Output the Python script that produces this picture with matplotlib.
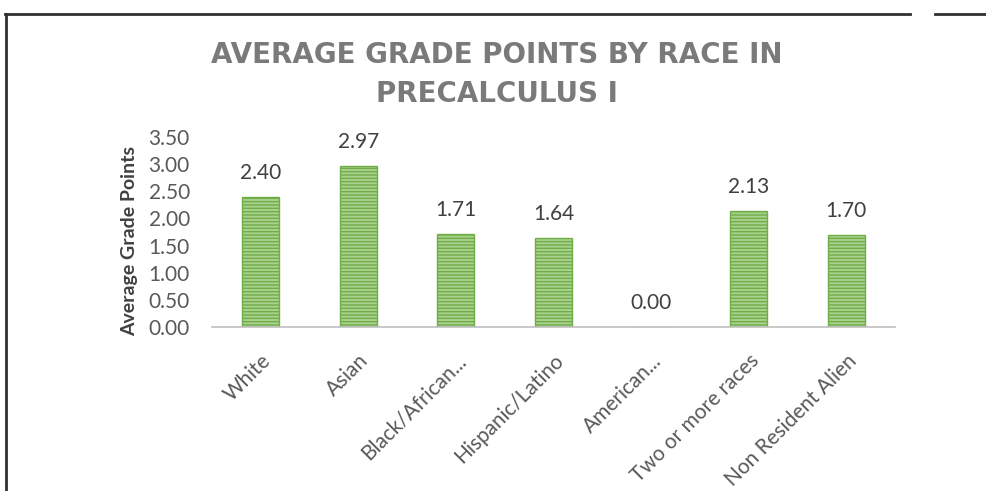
import numpy as np
import matplotlib.pyplot as plt
from matplotlib.lines import Line2D

# average grade points by race, precalculus I

races = ['White', 'Asian', 'Black/African...', 'Hispanic/Latino',
         'American...', 'Two or more races', 'Non Resident Alien']
grade_points = [2.40, 2.97, 1.71, 1.64, 0.00, 2.13, 1.70]
yticks = [0.0, 0.5, 1.0, 1.5, 2.0, 2.5, 3.0, 3.5]

text_gray = '#595959'
plt.rcParams['font.family'] = ['Lato', 'DejaVu Sans']
plt.rcParams['hatch.linewidth'] = 1.0

fig = plt.figure(figsize=(9.87, 4.91), dpi=100)
ax = fig.add_axes([0.2148, 0.334, 0.692, 0.387])

x = np.arange(len(races))
bars = ax.bar(x, grade_points, width=0.38, color='#a9d18e',
              edgecolor='#70ad47', hatch='-----', linewidth=1.0)

for xi, v in zip(x, grade_points):
    ax.annotate(f'{v:.2f}', (xi, v), xytext=(0, 10), textcoords='offset points',
                ha='center', va='bottom', fontsize=15, color='#404040')

ax.set_xlim(-0.5, len(races) - 0.5)
ax.set_ylim(0, 3.5)
ax.set_yticks(yticks)
ax.set_yticklabels([f'{t:.2f}' for t in yticks], fontsize=15, color=text_gray)
ax.set_xticks(x)
ax.set_xticklabels(races, rotation=45, ha='right', rotation_mode='anchor',
                   fontsize=15, color=text_gray)
ax.tick_params(axis='both', length=0)
ax.tick_params(axis='x', pad=17)
ax.tick_params(axis='y', pad=16)

for s in ['top', 'right', 'left']:
    ax.spines[s].set_visible(False)
ax.spines['bottom'].set_color('#bfbfbf')
ax.spines['bottom'].set_linewidth(1.2)

ax.set_ylabel('Average Grade Points', fontsize=14, fontweight='bold',
              color='#404040')
ax.yaxis.set_label_coords(-0.108, 0.453)

title_font = dict(ha='center', va='center', fontsize=20, fontweight='bold',
                  color='#7a7a7a', family=['DejaVu Sans'])
fig.text(0.503, 0.889, 'AVERAGE GRADE POINTS BY RACE IN', **title_font)
fig.text(0.503, 0.808, 'PRECALCULUS I', **title_font)

# page border lines
fig.add_artist(Line2D([0.005, 0.922], [0.972, 0.972], color='#303030', lw=2))
fig.add_artist(Line2D([0.947, 1.0], [0.972, 0.972], color='#303030', lw=2))
fig.add_artist(Line2D([0.006, 0.006], [0.0, 0.972], color='#303030', lw=2))

fig.savefig('out.png', dpi=100)
